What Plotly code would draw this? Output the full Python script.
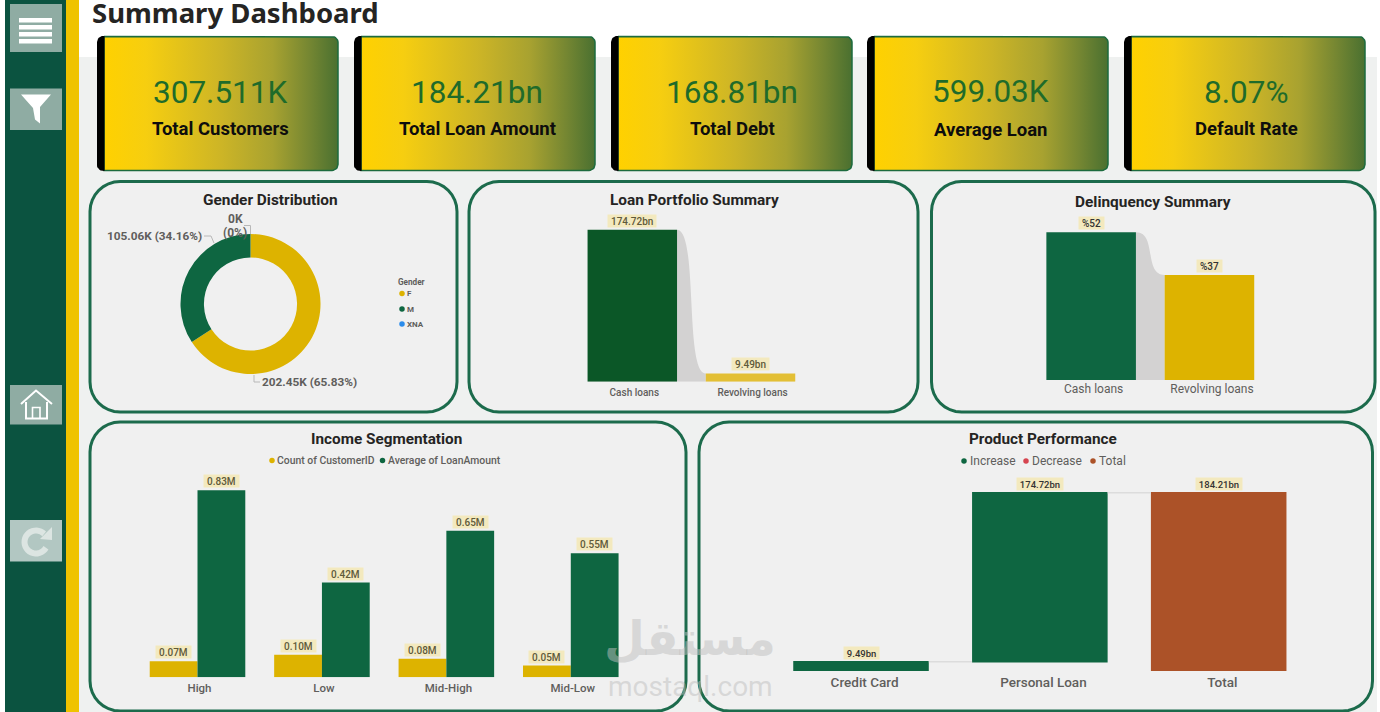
import numpy as np
import plotly.graph_objects as go

# ---------- data ----------
kpi_values = ["307.511K", "184.21bn", "168.81bn", "599.03K", "8.07%"]
kpi_labels = ["Total Customers", "Total Loan Amount", "Total Debt", "Average Loan", "Default Rate"]

gender_labels = ["F", "M", "XNA"]
gender_values = [202.45, 105.06, 0.0]
gender_pct = [65.83, 34.16, 0.0]

loan_categories = ["Cash loans", "Revolving loans"]
loan_values = [174.72, 9.49]

delinq_categories = ["Cash loans", "Revolving loans"]
delinq_values = [52, 37]

income_categories = ["High", "Low", "Mid-High", "Mid-Low"]
income_count = [0.07, 0.10, 0.08, 0.05]
income_count_heights = [0.071, 0.100, 0.082, 0.052]
income_loan = [0.83, 0.42, 0.65, 0.55]

product_categories = ["Credit Card", "Personal Loan", "Total"]
product_values = [9.49, 174.72, 184.21]
product_measures = ["relative", "relative", "total"]

# ---------- colours ----------
GREEN = "#0E6641"
GOLD = "#DDB300"
INK = "#252423"
GREY = "#605E5C"
PILL = "#F3E9BE"
PANEL = "#F0F0F0"
STROKE = "#1C6B4C"
W, H = 1380, 712
FONT = "Roboto"


def rounded(x0, y0, x1, y1, r, corners=(1, 1, 1, 1)):
    """Closed outline in page pixels; corners = TL, TR, BR, BL."""
    xs, ys = [], []
    spec = [(x0 + r, y0 + r, 180, 270, corners[0], x0, y0),
            (x1 - r, y0 + r, 270, 360, corners[1], x1, y0),
            (x1 - r, y1 - r, 0, 90, corners[2], x1, y1),
            (x0 + r, y1 - r, 90, 180, corners[3], x0, y1)]
    for cx, cy, a0, a1, on, px, py in spec:
        if on:
            t = np.radians(np.linspace(a0, a1, 9))
            xs += list(cx + r * np.cos(t))
            ys += list(cy + r * np.sin(t))
        else:
            xs.append(px)
            ys.append(py)
    return xs + xs[:1], ys + ys[:1]


def poly_path(xs, ys, close=True):
    p = "M" + " L".join(f"{a:.2f},{b:.2f}" for a, b in zip(xs, ys))
    return p + (" Z" if close else "")


def dom_x(a, b):
    return [a / W, b / W]


def dom_y(top, bottom):
    return [1 - bottom / H, 1 - top / H]


fig = go.Figure()
shapes, notes = [], []


def rect(x0, y0, x1, y1, color):
    shapes.append(dict(type="rect", xref="x", yref="y", x0=x0, y0=y0, x1=x1, y1=y1,
                       fillcolor=color, line=dict(width=0), layer="below"))


def path(d, fill=None, line=None, lw=0):
    s = dict(type="path", xref="x", yref="y", path=d, layer="below",
             line=dict(width=lw, color=line or "rgba(0,0,0,0)"))
    if fill:
        s["fillcolor"] = fill
    shapes.append(s)


def text(x, y, t, size, color=INK, weight=400, anchor="center", family=FONT, **kw):
    notes.append(dict(xref="x", yref="y", x=x, y=y, text=t, showarrow=False,
                      xanchor=anchor, yanchor="middle",
                      font=dict(family=family, size=size, color=color, weight=weight), **kw))


# ---------- page ----------
rect(79, 57, 1377, 712, "#EFF1F0")
rect(5, 0, 66, 712, "#0B5340")
rect(66, 0, 79, 712, "#EFC300")

# ---------- sidebar buttons ----------
BTN = "#8FACA3"
rect(10, 4, 62, 52, BTN)
for yy in (18, 25, 32, 39):
    rect(19, yy, 52, yy + 4.5, "#FFFFFF")
rect(10, 88.5, 62, 130, BTN)
path("M21,94.5 L51,94.5 L40,107 L40,123.5 L35,119.5 L33,108 Z", fill="#FFFFFF")
rect(10, 385, 62, 424.5, BTN)
path("M21,404 L36,390.5 L52,404", line="#FFFFFF", lw=2)
path("M26,402 L26,418.5 L47,418.5 L47,402", line="#FFFFFF", lw=2)
path("M32.5,418.5 L32.5,407.5 L40,407.5 L40,418.5", line="#FFFFFF", lw=1.6)
rect(10, 520, 62, 561.5, "#B2C7C2")
_t = np.radians(np.linspace(-45, -330, 28))
path(poly_path(36 + 11.5 * np.cos(_t), 542 + 11.5 * np.sin(_t), close=False), line="#DCE5E2", lw=6)
path("M52,527 L52,540 L40,539 Z", fill="#DCE5E2")

# ---------- page title ----------
text(89.5, 12.5, "Summary Dashboard", 27.5, color=INK, weight=700, anchor="left", family="Noto Sans")

# ---------- panels ----------
panels = [(90, 181.5, 457, 412), (469, 181.5, 918, 412), (931.5, 181.5, 1375, 412),
          (90, 422, 686, 711), (699, 422, 1372.5, 711)]
for x0, y0, x1, y1 in panels:
    xs, ys = rounded(x0, y0, x1, y1, 30)
    path(poly_path(xs, ys), fill=PANEL, line=STROKE, lw=3)

# ---------- KPI cards ----------
card_x = [(97, 338), (354, 595), (611, 852), (867, 1108), (1124, 1365)]
card_cx = [220, 477, 732, 990, 1246]
val_y = [92, 92, 92, 91, 92]
lab_y = [129, 129, 129, 130, 129]
for (x0, x1), cx, v, l, vy, ly in zip(card_x, card_cx, kpi_values, kpi_labels, val_y, lab_y):
    xs, ys = rounded(x0 + 7, 36.5, x1, 170.5, 6, corners=(0, 1, 1, 0))
    fig.add_trace(go.Scatter(
        x=xs, y=ys, mode="lines", fill="toself",
        fillgradient=dict(type="horizontal",
                          colorscale=[[0, "#FFD100"], [0.18, "#F6CE10"], [0.5, "#CDB526"],
                                      [0.72, "#A8A230"], [0.88, "#748632"], [1, "#4A7030"]]),
        line=dict(width=1.5, color="#1C6B3E"), hoverinfo="skip", showlegend=False))
    xs, ys = rounded(x0, 36, x0 + 14, 171, 6, corners=(1, 0, 0, 1))
    xs = [min(a, x0 + 7.5) for a in xs]
    fig.add_trace(go.Scatter(x=xs, y=ys, mode="lines", fill="toself", fillcolor="#000000",
                             line=dict(width=0), hoverinfo="skip", showlegend=False))
    text(cx, vy, v, 31.5, color="#1F6B2A", weight=400)
    text(cx, ly, l, 18.5, color="#0D0D0D", weight=700)

# ---------- gender donut ----------
fig.add_trace(go.Pie(labels=gender_labels, values=gender_values, hole=0.665, sort=False,
                     direction="clockwise", rotation=0, textinfo="none",
                     marker=dict(colors=[GOLD, GREEN, "#2B8CEB"], line=dict(width=0)),
                     domain=dict(x=dom_x(180.5, 320.5), y=dom_y(234, 374)), showlegend=False))
_fmt = [f"{v:.2f}K ({p:.2f}%)" for v, p in zip(gender_values, gender_pct)]
text(270, 200, "Gender Distribution", 15.4, weight=700)
text(204, 236, _fmt[1], 11.8, color=GREY, weight=700, anchor="right")
text(235, 218.5, "0K", 12, color=GREY, weight=700)
text(235, 232.5, "(0%)", 12, color=GREY, weight=700)
text(260, 382, _fmt[0], 11.8, color=GREY, weight=700, anchor="left")
path("M204,236 L211,236 L214,243", line="#B8B8B8", lw=1)
path("M244,225.5 L250.5,225.5 L250.5,234", line="#B8B8B8", lw=1)
path("M254,375 L254,382 L260,382", line="#B8B8B8", lw=1)
text(395.5, 281.5, "Gender", 8.2, color=GREY, weight=700, anchor="left")
for lab, col, yy in zip(gender_labels, [GOLD, GREEN, "#2B8CEB"], [293.5, 309, 324]):
    fig.add_trace(go.Scatter(x=[402], y=[yy], mode="markers", hoverinfo="skip", showlegend=False,
                             marker=dict(size=5.5, color=col)))
    text(404.5, yy, lab, 8, color=GREY, weight=700, anchor="left")

# ---------- loan portfolio ----------
BW = 0.757
fig.add_trace(go.Bar(x=[0, 1], y=loan_values, width=BW, xaxis="x2", yaxis="y2",
                     marker=dict(color=["#0B5727", "#E3BF35"], line=dict(width=0)),
                     hoverinfo="skip", showlegend=False))
text(694, 200, "Loan Portfolio Summary", 15.4, weight=700)


def ribbon(ax, ay, vals):
    a, b = BW / 2, 1 - BW / 2
    m = 0.5
    return dict(type="path", xref=ax, yref=ay, layer="below", fillcolor="#D3D2D2",
                line=dict(width=0),
                path=f"M{a},0 L{a},{vals[0]} C{m + 0.06},{vals[0]} {m - 0.06},{vals[1]} {b},{vals[1]} L{b},0 Z")


shapes.append(ribbon("x2", "y2", loan_values))


def pill(ax, ay, x, y, t, color="#5F5A3A", size=10):
    notes.append(dict(xref=ax, yref=ay, x=x, y=y, text="\u00a0" + t + "\u00a0", showarrow=False, yanchor="bottom",
                      yshift=2, bgcolor=PILL, borderpad=0.5,
                      font=dict(family=FONT, size=size, color=color, weight=500)))


for i, v in enumerate(loan_values):
    pill("x2", "y2", i, v, f"{v:.2f}bn")

# ---------- delinquency ----------
fig.add_trace(go.Bar(x=[0, 1], y=delinq_values, width=BW, xaxis="x3", yaxis="y3",
                     marker=dict(color=[GREEN, GOLD], line=dict(width=0)),
                     hoverinfo="skip", showlegend=False))
text(1152.5, 202, "Delinquency Summary", 15.4, weight=700)
shapes.append(ribbon("x3", "y3", delinq_values))
for i, v in enumerate(delinq_values):
    pill("x3", "y3", i, v, f"%{v}", color="#333333")

# ---------- income segmentation ----------
_idx = list(range(len(income_categories)))
fig.add_trace(go.Bar(x=_idx, y=income_count_heights, name="Count of CustomerID", xaxis="x4", yaxis="y4",
                     marker=dict(color=GOLD, line=dict(width=0)), hoverinfo="skip", showlegend=False))
fig.add_trace(go.Bar(x=_idx, y=income_loan, name="Average of LoanAmount", xaxis="x4", yaxis="y4",
                     marker=dict(color=GREEN, line=dict(width=0)), hoverinfo="skip", showlegend=False))
text(386, 439, "Income Segmentation", 15.3, weight=700)
fig.add_trace(go.Scatter(x=[272, 382.5], y=[460.5, 460.5], mode="markers", hoverinfo="skip", showlegend=False,
                         marker=dict(size=5.5, color=[GOLD, GREEN])))
text(275, 460.5, "Count of CustomerID", 10.4, color=GREY, weight=500, anchor="left")
text(385.5, 460.5, "Average of LoanAmount", 10.4, color=GREY, weight=500, anchor="left")
for i in _idx:
    pill("x4", "y4", i - 0.192, income_count_heights[i], f"{income_count[i]:.2f}M")
    pill("x4", "y4", i + 0.192, income_loan[i], f"{income_loan[i]:.2f}M")

# ---------- product performance ----------
fig.add_trace(go.Waterfall(x=[0, 1, 2], y=product_values, measure=product_measures, xaxis="x5", yaxis="y5",
                           increasing=dict(marker=dict(color=GREEN, line=dict(width=0))),
                           decreasing=dict(marker=dict(color="#D64550", line=dict(width=0))),
                           totals=dict(marker=dict(color="#AC5228", line=dict(width=0))),
                           connector=dict(line=dict(color="#DCDCDC", width=1.5)),
                           hoverinfo="skip", showlegend=False))
text(1043, 439, "Product Performance", 15.3, weight=700)
fig.add_trace(go.Scatter(x=[964, 1026, 1093], y=[461, 461, 461], mode="markers", hoverinfo="skip", showlegend=False,
                         marker=dict(size=5.5, color=[GREEN, "#D64550", "#AC5228"])))
text(967.5, 461, "Increase", 12, color=GREY, anchor="left")
text(1029.5, 461, "Decrease", 12, color=GREY, anchor="left")
text(1096.5, 461, "Total", 12, color=GREY, anchor="left")
_tops = [product_values[0], product_values[0] + product_values[1], product_values[2]]
for i, (v, t) in enumerate(zip(product_values, _tops)):
    pill("x5", "y5", i, t, f"{v:.2f}bn", color="#333333", size=9.5)

# ---------- watermark ----------
text(690, 638, "مستقل", 47, color="rgba(190,190,190,0.5)", weight=700, family="DejaVu Sans")
text(690, 686, "mostaql.com", 28, color="rgba(190,190,190,0.5)", family=FONT)


# ---------- axes ----------
def cat_axis(domain, rng, labels, size, anchor, weight=400, standoff=0, nudge=0.0):
    return dict(domain=domain, range=rng, tickvals=[i + nudge for i in range(len(labels))], ticktext=labels,
                anchor=anchor, showgrid=False, zeroline=False, showline=False, ticks="", fixedrange=True,
                ticklabelstandoff=standoff,
                tickfont=dict(family=FONT, size=size, color=GREY, weight=weight))


def val_axis(domain, rng, anchor):
    return dict(domain=domain, range=rng, anchor=anchor, visible=False, showgrid=False,
                zeroline=False, fixedrange=True)


fig.update_layout(
    width=W, height=H, margin=dict(l=0, r=0, t=0, b=0, autoexpand=False),
    paper_bgcolor="#FFFFFF", plot_bgcolor="rgba(0,0,0,0)",
    showlegend=False, barmode="group", bargap=0.232, bargroupgap=0,
    waterfallgap=0.242,
    xaxis=dict(domain=[0, 1], range=[0, W], visible=False, fixedrange=True),
    yaxis=dict(domain=[0, 1], range=[H, 0], visible=False, fixedrange=True),
    xaxis2=cat_axis(dom_x(573.2, 809.6), [-0.5, 1.5], loan_categories, 10, "y2", 500, standoff=3, nudge=0.017),
    yaxis2=val_axis(dom_y(215, 381.7), [0, (381.7 - 215) / (152.0 / 174.72)], "x2"),
    xaxis3=cat_axis(dom_x(1032, 1268.6), [-0.5, 1.5], delinq_categories, 12, "y3", nudge=0.021),
    yaxis3=val_axis(dom_y(215, 380), [0, (380 - 215) / (147.7 / 52)], "x3"),
    xaxis4=cat_axis(dom_x(135.3, 633), [-0.5, 3.5], income_categories, 11.5, "y4", 500, standoff=2, nudge=0.016),
    yaxis4=val_axis(dom_y(475, 677.3), [0, (677.3 - 475) / 225.5], "x4"),
    xaxis5=cat_axis(dom_x(771.6, 1308.1), [-0.5, 2.5], product_categories, 13.5, "y5", 500, standoff=1, nudge=0.02),
    yaxis5=val_axis(dom_y(475, 671), [0, (671 - 475) / 0.968], "x5"),
    shapes=shapes, annotations=notes,
)

fig.write_html("out.html", config=dict(displayModeBar=False),
               post_script="document.body.style.margin='0';document.body.style.overflow='hidden';")
